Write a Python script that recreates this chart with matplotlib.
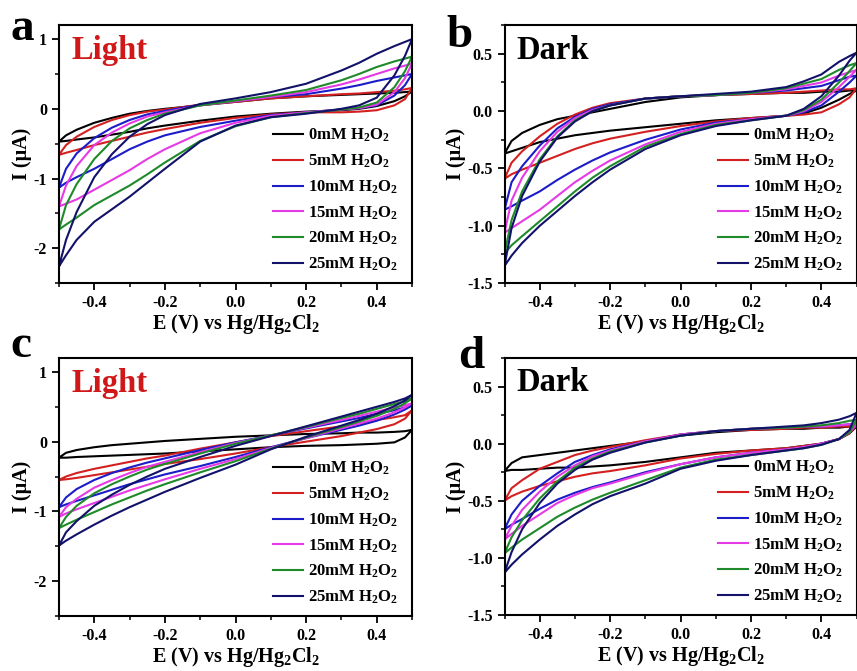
import numpy as np
import matplotlib
matplotlib.use('Agg')
import matplotlib.pyplot as plt
from matplotlib.ticker import MultipleLocator

plt.rcParams['font.family'] = ['Liberation Serif', 'DejaVu Serif']
plt.rcParams['font.weight'] = 'bold'
plt.rcParams['mathtext.fontset'] = 'custom'
plt.rcParams['mathtext.rm'] = 'Liberation Serif:bold'
plt.rcParams['mathtext.bf'] = 'Liberation Serif:bold'
plt.rcParams['mathtext.it'] = 'Liberation Serif:bold'
plt.rcParams['mathtext.default'] = 'rm'
plt.rcParams['axes.unicode_minus'] = False

# potential grid (V vs Hg/Hg2Cl2)
E = [-0.5, -0.48, -0.45, -0.4, -0.35, -0.3, -0.25, -0.2, -0.1, 0.0,
     0.1, 0.2, 0.3, 0.35, 0.4, 0.45, 0.48, 0.5]

labels = ['0mM H$_2$O$_2$', '5mM H$_2$O$_2$', '10mM H$_2$O$_2$',
          '15mM H$_2$O$_2$', '20mM H$_2$O$_2$', '25mM H$_2$O$_2$']
colors = ['#000000', '#d42020', '#1c1cc8', '#e63ae6', '#1f8a2a', '#12126a']

# panel a: light, upper / lower branches of each loop
a_up = [
    [-0.47, -0.38, -0.30, -0.20, -0.13, -0.07, -0.03, 0.00, 0.05, 0.10, 0.15, 0.18, 0.20, 0.21, 0.22, 0.23, 0.24, 0.25],
    [-0.66, -0.52, -0.40, -0.26, -0.16, -0.09, -0.04, -0.01, 0.06, 0.10, 0.15, 0.18, 0.21, 0.22, 0.24, 0.26, 0.28, 0.30],
    [-1.13, -0.86, -0.64, -0.42, -0.27, -0.16, -0.08, -0.03, 0.06, 0.11, 0.17, 0.21, 0.29, 0.34, 0.40, 0.45, 0.48, 0.50],
    [-1.40, -1.10, -0.82, -0.52, -0.34, -0.21, -0.11, -0.05, 0.05, 0.11, 0.17, 0.24, 0.35, 0.42, 0.50, 0.58, 0.62, 0.65],
    [-1.73, -1.38, -1.08, -0.72, -0.46, -0.28, -0.16, -0.07, 0.05, 0.12, 0.19, 0.27, 0.41, 0.50, 0.60, 0.68, 0.72, 0.75],
    [-2.26, -1.88, -1.48, -0.98, -0.65, -0.40, -0.22, -0.09, 0.07, 0.15, 0.24, 0.36, 0.55, 0.66, 0.79, 0.90, 0.96, 1.00],
]
a_lo = [
    [-0.47, -0.46, -0.44, -0.41, -0.37, -0.33, -0.28, -0.24, -0.17, -0.11, -0.07, -0.04, -0.02, 0.00, 0.04, 0.11, 0.18, 0.25],
    [-0.66, -0.63, -0.59, -0.52, -0.46, -0.40, -0.34, -0.29, -0.20, -0.13, -0.08, -0.05, -0.05, -0.04, -0.02, 0.05, 0.14, 0.30],
    [-1.13, -1.06, -0.98, -0.86, -0.72, -0.58, -0.47, -0.38, -0.26, -0.17, -0.09, -0.05, -0.01, 0.01, 0.05, 0.19, 0.34, 0.50],
    [-1.40, -1.36, -1.30, -1.16, -1.02, -0.88, -0.72, -0.58, -0.35, -0.20, -0.10, -0.05, -0.01, 0.01, 0.06, 0.24, 0.44, 0.65],
    [-1.73, -1.66, -1.56, -1.38, -1.24, -1.10, -0.94, -0.77, -0.46, -0.25, -0.12, -0.06, -0.01, 0.02, 0.09, 0.31, 0.54, 0.75],
    [-2.26, -2.10, -1.88, -1.62, -1.44, -1.26, -1.06, -0.86, -0.47, -0.24, -0.12, -0.07, 0.00, 0.05, 0.16, 0.48, 0.76, 1.00],
]

# panel b: dark
b_up = [
    [-0.37, -0.26, -0.19, -0.12, -0.07, -0.04, -0.01, 0.02, 0.08, 0.12, 0.14, 0.15, 0.16, 0.16, 0.17, 0.17, 0.18, 0.18],
    [-0.59, -0.45, -0.35, -0.22, -0.11, -0.03, 0.03, 0.07, 0.11, 0.13, 0.14, 0.15, 0.16, 0.17, 0.18, 0.19, 0.19, 0.20],
    [-0.86, -0.62, -0.48, -0.30, -0.15, -0.05, 0.02, 0.06, 0.11, 0.13, 0.14, 0.16, 0.18, 0.20, 0.22, 0.27, 0.30, 0.31],
    [-1.06, -0.78, -0.58, -0.35, -0.18, -0.06, 0.01, 0.05, 0.11, 0.13, 0.14, 0.16, 0.19, 0.22, 0.25, 0.31, 0.34, 0.36],
    [-1.24, -0.95, -0.70, -0.42, -0.22, -0.08, 0.00, 0.05, 0.11, 0.13, 0.14, 0.16, 0.20, 0.24, 0.28, 0.36, 0.40, 0.42],
    [-1.35, -1.02, -0.74, -0.44, -0.23, -0.09, 0.00, 0.05, 0.11, 0.13, 0.15, 0.17, 0.21, 0.26, 0.32, 0.43, 0.48, 0.51],
]
b_lo = [
    [-0.37, -0.35, -0.32, -0.27, -0.24, -0.21, -0.19, -0.17, -0.14, -0.11, -0.08, -0.06, -0.04, -0.02, 0.03, 0.10, 0.15, 0.18],
    [-0.59, -0.55, -0.51, -0.45, -0.39, -0.33, -0.28, -0.24, -0.18, -0.13, -0.09, -0.06, -0.04, -0.03, -0.01, 0.06, 0.12, 0.20],
    [-0.86, -0.83, -0.78, -0.70, -0.60, -0.51, -0.43, -0.36, -0.25, -0.16, -0.10, -0.07, -0.04, -0.01, 0.05, 0.17, 0.25, 0.31],
    [-1.06, -1.02, -0.96, -0.86, -0.74, -0.62, -0.52, -0.43, -0.29, -0.18, -0.11, -0.07, -0.04, 0.00, 0.08, 0.21, 0.30, 0.36],
    [-1.24, -1.17, -1.09, -0.96, -0.83, -0.70, -0.58, -0.48, -0.31, -0.20, -0.12, -0.08, -0.04, 0.01, 0.10, 0.25, 0.35, 0.42],
    [-1.35, -1.26, -1.15, -1.00, -0.87, -0.74, -0.62, -0.51, -0.33, -0.21, -0.13, -0.08, -0.04, 0.02, 0.13, 0.31, 0.44, 0.51],
]

# panel c: light
c_up = [
    [-0.23, -0.16, -0.12, -0.08, -0.05, -0.03, -0.01, 0.01, 0.04, 0.07, 0.09, 0.11, 0.12, 0.13, 0.13, 0.14, 0.15, 0.17],
    [-0.55, -0.50, -0.45, -0.39, -0.34, -0.29, -0.24, -0.20, -0.10, -0.01, 0.08, 0.15, 0.22, 0.26, 0.31, 0.35, 0.38, 0.45],
    [-0.94, -0.80, -0.68, -0.55, -0.45, -0.37, -0.30, -0.24, -0.12, -0.01, 0.09, 0.19, 0.29, 0.34, 0.40, 0.45, 0.49, 0.52],
    [-1.08, -0.94, -0.82, -0.66, -0.55, -0.45, -0.36, -0.29, -0.15, -0.02, 0.09, 0.20, 0.31, 0.37, 0.43, 0.49, 0.52, 0.55],
    [-1.24, -1.08, -0.92, -0.74, -0.61, -0.50, -0.40, -0.32, -0.17, -0.03, 0.09, 0.21, 0.34, 0.40, 0.47, 0.54, 0.58, 0.62],
    [-1.49, -1.30, -1.14, -0.92, -0.76, -0.62, -0.50, -0.39, -0.22, -0.06, 0.08, 0.22, 0.36, 0.43, 0.50, 0.57, 0.62, 0.67],
]
c_lo = [
    [-0.23, -0.23, -0.22, -0.21, -0.20, -0.19, -0.18, -0.17, -0.14, -0.11, -0.08, -0.06, -0.05, -0.04, -0.03, -0.01, 0.06, 0.17],
    [-0.55, -0.54, -0.52, -0.48, -0.44, -0.40, -0.36, -0.32, -0.25, -0.17, -0.08, 0.00, 0.08, 0.13, 0.18, 0.25, 0.33, 0.45],
    [-0.94, -0.90, -0.85, -0.77, -0.69, -0.61, -0.54, -0.47, -0.35, -0.22, -0.08, 0.05, 0.17, 0.23, 0.30, 0.39, 0.46, 0.52],
    [-1.08, -1.03, -0.97, -0.88, -0.79, -0.70, -0.62, -0.54, -0.39, -0.25, -0.09, 0.05, 0.19, 0.26, 0.33, 0.42, 0.49, 0.55],
    [-1.24, -1.19, -1.12, -1.01, -0.90, -0.80, -0.70, -0.61, -0.44, -0.28, -0.10, 0.06, 0.21, 0.29, 0.37, 0.47, 0.55, 0.62],
    [-1.49, -1.42, -1.33, -1.19, -1.06, -0.94, -0.83, -0.72, -0.52, -0.33, -0.11, 0.07, 0.23, 0.31, 0.40, 0.51, 0.59, 0.67],
]

# panel d: dark
d_up = [
    [-0.24, -0.17, -0.12, -0.10, -0.08, -0.06, -0.04, -0.02, 0.02, 0.07, 0.10, 0.12, 0.13, 0.13, 0.14, 0.14, 0.15, 0.15],
    [-0.50, -0.39, -0.32, -0.22, -0.16, -0.10, -0.06, -0.03, 0.03, 0.08, 0.11, 0.12, 0.13, 0.14, 0.14, 0.15, 0.15, 0.16],
    [-0.75, -0.62, -0.50, -0.37, -0.26, -0.16, -0.10, -0.05, 0.02, 0.08, 0.11, 0.13, 0.14, 0.15, 0.15, 0.16, 0.17, 0.17],
    [-0.84, -0.72, -0.58, -0.42, -0.29, -0.19, -0.11, -0.06, 0.02, 0.08, 0.11, 0.13, 0.14, 0.15, 0.15, 0.16, 0.17, 0.17],
    [-0.96, -0.82, -0.67, -0.48, -0.33, -0.21, -0.13, -0.07, 0.01, 0.07, 0.11, 0.13, 0.14, 0.15, 0.16, 0.18, 0.20, 0.21],
    [-1.13, -0.95, -0.75, -0.52, -0.35, -0.23, -0.14, -0.08, 0.01, 0.07, 0.11, 0.13, 0.15, 0.16, 0.18, 0.21, 0.24, 0.27],
]
d_lo = [
    [-0.24, -0.23, -0.23, -0.22, -0.21, -0.21, -0.20, -0.19, -0.16, -0.12, -0.08, -0.06, -0.04, -0.02, 0.00, 0.04, 0.09, 0.15],
    [-0.50, -0.46, -0.42, -0.37, -0.33, -0.29, -0.26, -0.24, -0.19, -0.13, -0.09, -0.06, -0.04, -0.02, 0.00, 0.04, 0.09, 0.16],
    [-0.75, -0.71, -0.66, -0.57, -0.49, -0.43, -0.38, -0.34, -0.25, -0.18, -0.12, -0.08, -0.05, -0.03, 0.00, 0.04, 0.10, 0.17],
    [-0.84, -0.79, -0.72, -0.62, -0.52, -0.45, -0.39, -0.35, -0.26, -0.18, -0.12, -0.08, -0.05, -0.03, 0.00, 0.04, 0.10, 0.17],
    [-0.96, -0.91, -0.84, -0.74, -0.64, -0.56, -0.49, -0.43, -0.32, -0.21, -0.14, -0.10, -0.06, -0.04, -0.01, 0.04, 0.10, 0.21],
    [-1.13, -1.06, -0.97, -0.84, -0.72, -0.62, -0.53, -0.46, -0.35, -0.22, -0.15, -0.10, -0.06, -0.04, -0.01, 0.04, 0.12, 0.27],
]


def draw_panel(ax, ups, los, ylim, ymaj, ymin, tag, tag_color, letter, letter_xy):
    for up, lo, col, lab in zip(ups, los, colors, labels):
        xs = E + E[::-1]
        ys = up + lo[::-1]
        ax.plot(xs, ys, color=col, lw=1.5, label=lab, solid_joinstyle='round')
    ax.set_xlim(-0.5, 0.5)
    ax.set_ylim(*ylim)
    ax.xaxis.set_major_locator(MultipleLocator(0.2))
    ax.xaxis.set_minor_locator(MultipleLocator(0.1))
    ax.yaxis.set_major_locator(MultipleLocator(ymaj))
    ax.yaxis.set_minor_locator(MultipleLocator(ymin))
    ax.xaxis.set_major_formatter(plt.FuncFormatter(lambda v, p: '%.1f' % v))
    if ymaj == 1:
        ax.yaxis.set_major_formatter(plt.FuncFormatter(lambda v, p: '%d' % round(v)))
    else:
        ax.yaxis.set_major_formatter(plt.FuncFormatter(lambda v, p: '%.1f' % v))
    ax.tick_params(which='major', direction='out', length=5, width=1.3, labelsize=11.5)
    ax.tick_params(which='minor', direction='out', length=3, width=1.1)
    for t in ax.get_xticklabels() + ax.get_yticklabels():
        t.set_fontweight('bold')
    for s in ax.spines.values():
        s.set_linewidth(1.5)
    ax.set_xlabel('E (V) vs Hg/Hg$_2$Cl$_2$', fontsize=14.5, fontweight='bold', labelpad=1)
    ax.set_ylabel('I (\u03bcA)', fontsize=14.5, fontweight='bold', labelpad=1)
    ax.text(0.035, 0.87, tag, transform=ax.transAxes, color=tag_color,
            fontsize=23.5, fontweight='bold')
    ax.legend(loc='lower right', frameon=False, fontsize=12, handlelength=1.8,
              handletextpad=0.3, labelspacing=0.5, borderaxespad=0.2,
              bbox_to_anchor=(0.99, 0.0))
    fig.text(letter_xy[0], letter_xy[1], letter, fontsize=34, fontweight='bold')


fig = plt.figure(figsize=(8.57, 6.71), dpi=100)
ax_a = fig.add_axes([0.0688, 0.578, 0.412, 0.3845])
ax_b = fig.add_axes([0.5887, 0.578, 0.4108, 0.3845])
ax_c = fig.add_axes([0.0688, 0.082, 0.412, 0.3845])
ax_d = fig.add_axes([0.5887, 0.0835, 0.4108, 0.3830])

draw_panel(ax_a, a_up, a_lo, (-2.5, 1.2), 1, 0.5, 'Light', '#d01818', 'a', (0.012, 0.94))
draw_panel(ax_b, b_up, b_lo, (-1.5, 0.75), 0.5, 0.25, 'Dark', 'black', 'b', (0.521, 0.93))
draw_panel(ax_c, c_up, c_lo, (-2.5, 1.2), 1, 0.5, 'Light', '#d01818', 'c', (0.012, 0.468))
draw_panel(ax_d, d_up, d_lo, (-1.5, 0.75), 0.5, 0.25, 'Dark', 'black', 'd', (0.535, 0.452))

fig.savefig('out.png', dpi=100)
